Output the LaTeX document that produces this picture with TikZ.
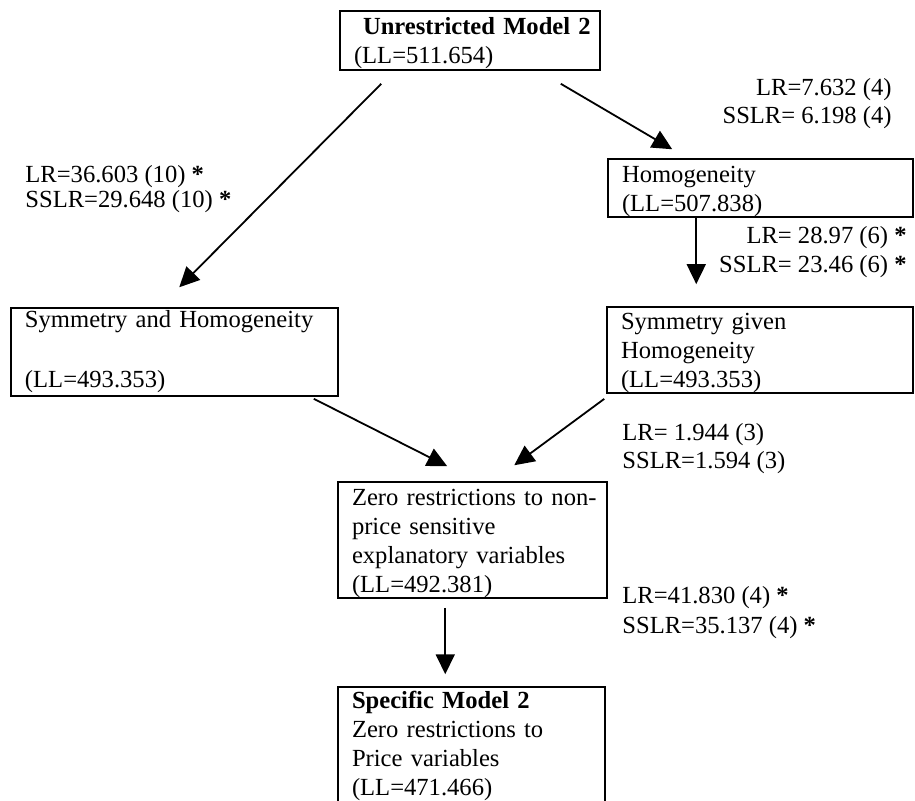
\documentclass[tikz,border=0pt]{standalone}
\usepackage{fontspec}
\setmainfont{Liberation Serif}
\usetikzlibrary{arrows.meta,calc}
% first-line strut that lowers the text block inside a box
\newcommand\boxstrut{\rule{0pt}{11.5pt}}
\begin{document}
\begin{tikzpicture}[x=0.5pt,y=-0.5pt,
  box/.style={draw, line width=0.75pt, rectangle, inner xsep=7pt, inner ysep=0pt,
    align=left, font=\fontsize{12.3}{14.5}\selectfont},
  lbl/.style={inner sep=0pt},
  flow/.style={line width=0.9pt, -{Triangle[length=10pt,width=9.5pt]}}]
\useasboundingbox (0,0) rectangle (915,800);

% model boxes
\node[box, minimum width=130pt, minimum height=29.5pt, text width=116pt] (top) at (470,40.5)
  {\boxstrut\mbox{\hspace*{4.5pt}\textbf{Unrestricted Model 2}}\\(LL=511.654)};
\node[box, minimum width=152.5pt, minimum height=29pt, text width=138.5pt] (homog) at (760.5,188)
  {\boxstrut Homogeneity\\(LL=507.838)};
\node[box, minimum width=163.5pt, minimum height=44pt, text width=149.5pt] (symhom) at (174.5,352)
  {\mbox{Symmetry and Homogeneity}\\\mbox{}\\[1pt](LL=493.353)};
\node[box, minimum width=153pt, minimum height=43pt, text width=139pt] (symgiven) at (760,350)
  {\boxstrut Symmetry given\\Homogeneity\\(LL=493.353)};
\node[box, minimum width=134.5pt, minimum height=58pt, text width=120.5pt] (zero) at (472.5,540)
  {\boxstrut\mbox{Zero restrictions to non-}\\price sensitive\\\mbox{explanatory variables}\\(LL=492.381)};
\node[box, minimum width=133.5pt, minimum height=58.5pt, text width=119.5pt] (specific) at (471.5,745.5)
  {\textbf{Specific Model 2}\\\mbox{Zero restrictions to}\\Price variables\\(LL=471.466)};

% test statistics (base anchor sits on the last line)
\node[lbl, anchor=base west, align=left, font=\fontsize{12.3}{12.5}\selectfont] (lrA) at (25,207)
  {LR=36.603 (10) \textbf{*}\\SSLR=29.648 (10) \textbf{*}};
\node[lbl, anchor=base east, align=right, font=\fontsize{12.3}{14}\selectfont] (lrB) at (892,123)
  {LR=7.632 (4)\\SSLR= 6.198 (4)};
\node[lbl, anchor=base east, align=right, font=\fontsize{12.3}{14.5}\selectfont] (lrC) at (907,272)
  {LR= 28.97 (6) \textbf{*}\\SSLR= 23.46 (6) \textbf{*}};
\node[lbl, anchor=base west, align=left, font=\fontsize{12.3}{14}\selectfont] (lrD) at (622,468)
  {LR= 1.944 (3)\\SSLR=1.594 (3)};
\node[lbl, anchor=base west, align=left, font=\fontsize{12.3}{15}\selectfont] (lrE) at (622,633)
  {LR=41.830 (4) \textbf{*}\\SSLR=35.137 (4) \textbf{*}};

% restriction tests
\draw[flow] ($(top.south west)+(42,13)$) -- ($(symhom.north west)+(169,-20)$);
\draw[flow] ($(top.south east)+(-40,13)$) -- ($(homog.north west)+(65,-9)$);
\draw[flow] ($(homog.south west)+(89,0)$) -- ($(symgiven.north west)+(90,-22)$);
\draw[flow] ($(symhom.south east)+(-25,2)$) -- ($(zero.north west)+(110,-15)$);
\draw[flow] ($(symgiven.south west)+(-2,5)$) -- ($(zero.north west)+(177,-16)$);
\draw[flow] ($(zero.south west)+(108,9)$) -- ($(specific.north west)+(108,-12)$);
\end{tikzpicture}
\end{document}
